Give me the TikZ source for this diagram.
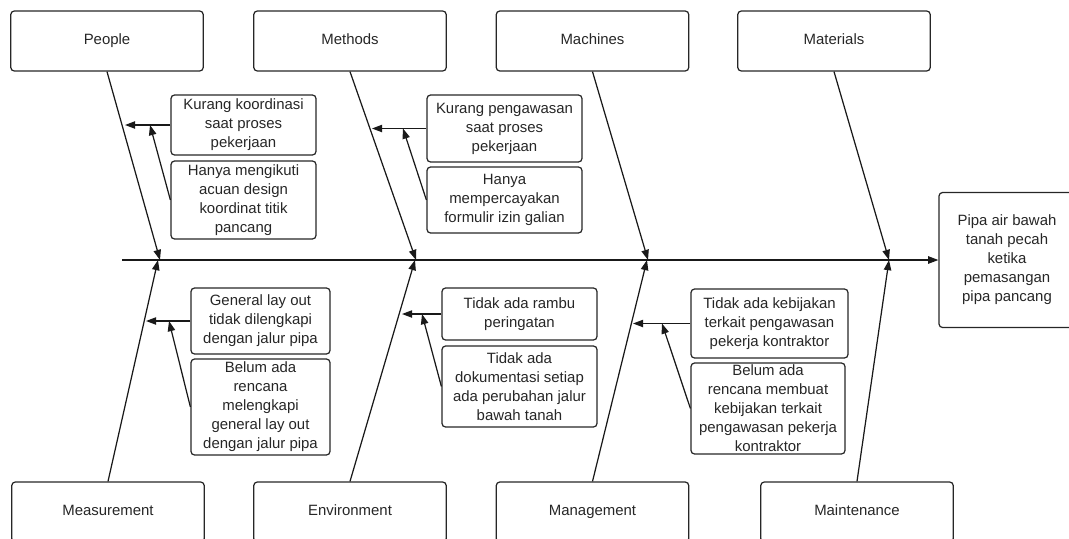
\documentclass[tikz,border=0pt]{standalone}
\usepackage{fontspec}
\setmainfont{Liberation Sans}
\usepackage{tikz}
\usetikzlibrary{arrows.meta}

\begin{document}
\begin{tikzpicture}[x=0.02cm,y=-0.02cm,
	box/.style={draw=black!85,text=black!85,rounded corners=2pt,line width=0.7pt,align=center,inner sep=1pt,font=\fontsize{8.5}{10.8}\selectfont},
	cat/.style={box,minimum width=3.85cm,minimum height=1.2cm,text height=6.4pt,text depth=2.4pt},
	bone/.style={black!90,line width=0.7pt,-{Triangle[length=5.8pt,width=4.2pt]}}]
\useasboundingbox (0,0) rectangle (1069,538);
\node[cat] (People) at (107,41) {People};
\node[cat] (Methods) at (350,41) {Methods};
\node[cat] (Machines) at (592.5,41) {Machines};
\node[cat] (Materials) at (834,41) {Materials};
\node[cat] (Measurement) at (108,512) {Measurement};
\node[cat] (Environment) at (350,512) {Environment};
\node[cat] (Management) at (592.5,512) {Management};
\node[cat] (Maintenance) at (857,512) {Maintenance};
\node[box,minimum width=2.72cm,minimum height=2.7cm] (Effect) at (1007,260) {Pipa air bawah\\tanah pecah\\ketika\\pemasangan\\pipa pancang};

\node[box,minimum width=2.9cm,minimum height=1.2cm] (P1) at (243.5,125) {Kurang koordinasi\\saat proses\\pekerjaan};
\node[box,minimum width=2.9cm,minimum height=1.56cm] (P2) at (243.5,200) {Hanya mengikuti\\acuan design\\koordinat titik\\pancang};
\node[box,minimum width=3.1cm,minimum height=1.34cm] (M1) at (504.5,128.5) {Kurang pengawasan\\saat proses\\pekerjaan};
\node[box,minimum width=3.1cm,minimum height=1.32cm] (M2) at (504.5,200) {Hanya\\mempercayakan\\formulir izin galian};
\node[box,minimum width=2.78cm,minimum height=1.32cm] (G1) at (260.5,321) {General lay out\\tidak dilengkapi\\dengan jalur pipa};
\node[box,minimum width=2.78cm,minimum height=1.92cm] (G2) at (260.5,407) {Belum ada\\rencana\\melengkapi\\general lay out\\dengan jalur pipa};
\node[box,minimum width=3.1cm,minimum height=1.04cm] (E1) at (519.5,314) {Tidak ada rambu\\peringatan};
\node[box,minimum width=3.1cm,minimum height=1.62cm] (E2) at (519.5,386.5) {Tidak ada\\dokumentasi setiap\\ada perubahan jalur\\bawah tanah};
\node[box,minimum width=3.14cm,minimum height=1.38cm] (K1) at (769.5,323.5) {Tidak ada kebijakan\\terkait pengawasan\\pekerja kontraktor};
\node[box,minimum width=3.08cm,minimum height=1.82cm] (K2) at (768,408.5) {Belum ada\\rencana membuat\\kebijakan terkait\\pengawasan pekerja\\kontraktor};

\coordinate (tail) at (122,260);
\coordinate (jPeople) at (160,260);
\coordinate (jMethods) at (416,260);
\coordinate (jMachines) at (648,260);
\coordinate (jMaterials) at (889,260);
\coordinate (jMeasurement) at (158,260);
\coordinate (jEnvironment) at (415,260);
\coordinate (jManagement) at (647,260);
\coordinate (jMaintenance) at (889,260);

\coordinate (p1) at (125,125);
\coordinate (p2) at (150,125);
\coordinate (m1) at (372,128.5);
\coordinate (m2) at (403,128.5);
\coordinate (g1) at (146,321);
\coordinate (g2) at (169,321);
\coordinate (e1) at (402,314);
\coordinate (e2) at (422,314);
\coordinate (k1) at (633,323.5);
\coordinate (k2) at (662,323.5);

\draw[bone] (tail) -- (Effect.west);
\draw[bone] (People.south) -- (jPeople);
\draw[bone] (Methods.south) -- (jMethods);
\draw[bone] (Machines.south) -- (jMachines);
\draw[bone] (Materials.south) -- (jMaterials);
\draw[bone] (Measurement.north) -- (jMeasurement);
\draw[bone] (Environment.north) -- (jEnvironment);
\draw[bone] (Management.north) -- (jManagement);
\draw[bone] (Maintenance.north) -- (jMaintenance);

\draw[bone] (P1.west) -- (p1);
\draw[bone] (P2.west) -- (p2);
\draw[bone] (M1.west) -- (m1);
\draw[bone] (M2.west) -- (m2);
\draw[bone] (G1.west) -- (g1);
\draw[bone] (G2.west) -- (g2);
\draw[bone] (E1.west) -- (e1);
\draw[bone] (E2.west) -- (e2);
\draw[bone] (K1.west) -- (k1);
\draw[bone] (K2.west) -- (k2);

\end{tikzpicture}
\end{document}
